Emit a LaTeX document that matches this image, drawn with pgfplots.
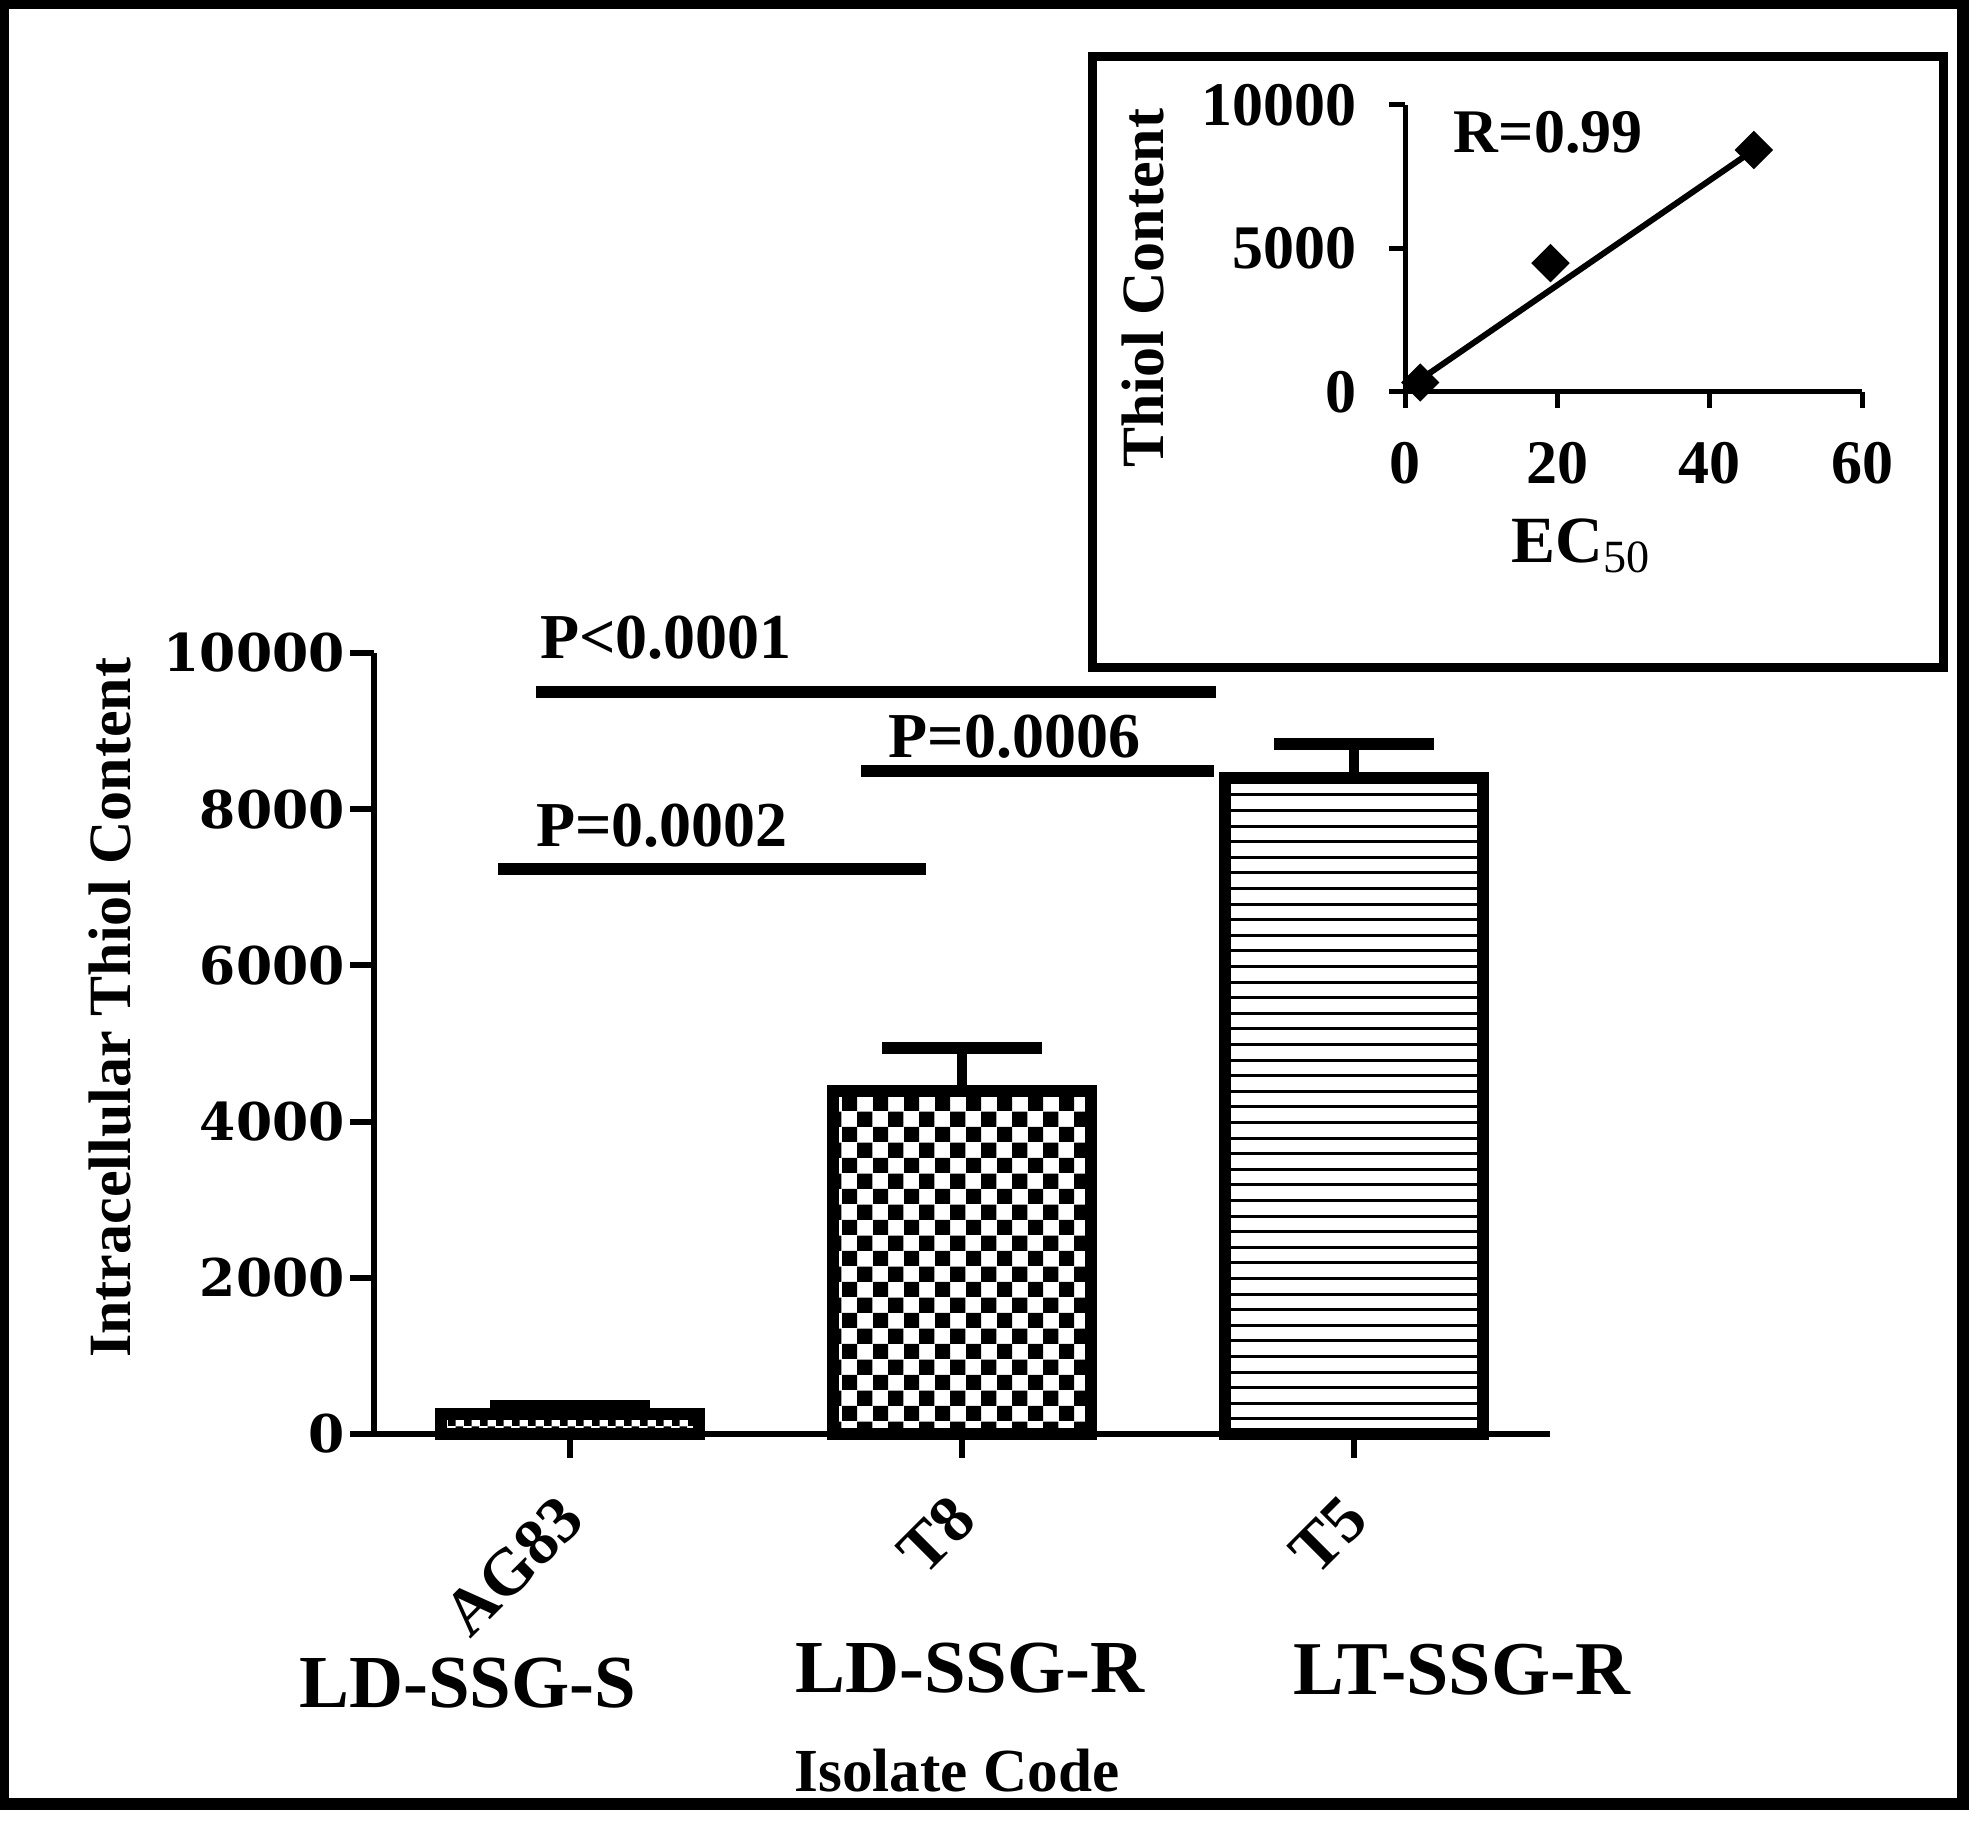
\documentclass[border=0pt]{standalone}
\usepackage{fontspec}
\setmainfont{Liberation Serif}
\newfontfamily\dvs{DejaVu Serif}
\usepackage{pgfplots}
\pgfplotsset{compat=1.18}
\usetikzlibrary{patterns}

\pgfdeclarepatternformonly{checker}{\pgfpointorigin}{\pgfqpoint{7.8pt}{7.8pt}}{\pgfqpoint{7.8pt}{7.8pt}}{%
  \pgfpathrectangle{\pgfpointorigin}{\pgfqpoint{3.9pt}{3.9pt}}%
  \pgfpathrectangle{\pgfqpoint{3.9pt}{3.9pt}}{\pgfqpoint{3.9pt}{3.9pt}}%
  \pgfusepath{fill}}
\pgfdeclarepatternformonly{smallchecker}{\pgfpointorigin}{\pgfqpoint{4pt}{4pt}}{\pgfqpoint{4pt}{4pt}}{%
  \pgfpathrectangle{\pgfpointorigin}{\pgfqpoint{2pt}{2pt}}%
  \pgfpathrectangle{\pgfqpoint{2pt}{2pt}}{\pgfqpoint{2pt}{2pt}}%
  \pgfusepath{fill}}
\pgfdeclarepatternformonly{hstripes}{\pgfpointorigin}{\pgfqpoint{4pt}{0.75pt}}{\pgfqpoint{4pt}{3.9pt}}{%
  \pgfpathrectangle{\pgfpointorigin}{\pgfqpoint{4pt}{0.75pt}}%
  \pgfusepath{fill}}

\newcommand{\fs}[1]{\fontsize{#1}{1.2\dimexpr#1pt\relax}\selectfont}

\begin{document}
\begin{tikzpicture}
\useasboundingbox (0,0) rectangle (492.25pt,456.5pt);
\draw[line width=3pt] (0.75pt,5.5pt) rectangle (490.75pt,455.75pt);
\draw[line width=2.25pt] (273pt,289.5pt) rectangle (485.75pt,442.25pt);

% ---------------- main bar chart ----------------
\begin{axis}[
  at={(93.5pt,98pt)}, anchor=south west,
  scale only axis, width=294pt, height=195.25pt,
  xmin=-0.5, xmax=2.5, ymin=0, ymax=10000,
  scaled y ticks=false,
  axis lines*=left,
  axis line style={line width=1.5pt},
  major tick style={line width=1.5pt, black},
  tick align=outside,
  major tick length=6pt,
  xtick={0,1,2}, xticklabels={AG83,T8,T5},
  ytick={0,2000,4000,6000,8000,10000},
  yticklabels={0,2000,4000,6000,8000,10000},
  yticklabel style={font=\dvs\bfseries\fs{13}, xshift=2.2pt},
  xticklabel style={font=\bfseries\fs{16.5}, xshift=3pt, yshift=-10pt, rotate=45, anchor=east},
  bar width=0.66,
  clip=false,
  ylabel={Intracellular Thiol Content},
  ylabel style={font=\bfseries\fs{15}, at={(axis description cs:-0.2245,0.5455)}, anchor=center},
  xlabel={Isolate Code},
  xlabel style={font=\bfseries\fs{15.3}, at={(axis description cs:0.4957,-0.4315)}, anchor=center},
]
\addplot[ybar, bar shift=0pt, draw=black, line width=3pt, pattern=smallchecker,
  error bars/.cd, y dir=plus, y explicit,
  error bar style={line width=2.7pt, solid},
  error mark options={rotate=90, line width=3pt, mark size=20pt}]
  coordinates {(0,256) +- (0,100)};
\addplot[ybar, bar shift=0pt, draw=black, line width=3pt, pattern=checker,
  error bars/.cd, y dir=plus, y explicit,
  error bar style={line width=2.7pt, solid},
  error mark options={rotate=90, line width=3pt, mark size=20pt}]
  coordinates {(1,4392) +- (0,550)};
\addplot[ybar, bar shift=0pt, draw=black, line width=3pt, pattern=hstripes,
  error bars/.cd, y dir=plus, y explicit,
  error bar style={line width=2.7pt, solid},
  error mark options={rotate=90, line width=3pt, mark size=20pt}]
  coordinates {(2,8400) +- (0,440)};
% significance bars
\addplot[line width=3pt, no marks, forget plot] coordinates {(-0.087,9500) (1.647,9500)};
\addplot[line width=3pt, no marks, forget plot] coordinates {(0.742,8490) (1.642,8490)};
\addplot[line width=3pt, no marks, forget plot] coordinates {(-0.184,7234) (0.908,7234)};
\node[font=\bfseries\fs{16}, anchor=center] at (axis cs:0.245,10190) {P<0.0001};
\node[font=\bfseries\fs{16}, anchor=center] at (axis cs:1.134,8925) {P=0.0006};
\node[font=\bfseries\fs{16}, anchor=center] at (axis cs:0.235,7785) {P=0.0002};
\node[font=\bfseries\fs{18.7}, anchor=center, inner sep=0pt] at (axis cs:-0.261,-3188) {LD-SSG-S};
\node[font=\bfseries\fs{18.7}, anchor=center, inner sep=0pt] at (axis cs:1.020,-2996) {LD-SSG-R};
\node[font=\bfseries\fs{19}, anchor=center, inner sep=0pt] at (axis cs:2.276,-3022) {LT-SSG-R};
\end{axis}

% ---------------- inset ----------------
\begin{axis}[
  at={(351.25pt,358.5pt)}, anchor=south west,
  scale only axis, width=114.25pt, height=71.75pt,
  xmin=0, xmax=60, ymin=0, ymax=10000,
  scaled y ticks=false, scaled x ticks=false,
  axis lines*=left,
  axis line style={line width=1.25pt},
  major tick style={line width=1.25pt, black},
  tick align=outside,
  major tick length=4pt,
  xtick={0,20,40,60}, xticklabels={0,20,40,60},
  ytick={0,5000,10000}, yticklabels={0,5000,10000},
  ticklabel style={font=\bfseries\fs{15.5}},
  yticklabel style={xshift=-4.7pt},
  xticklabel style={yshift=-5pt},
  clip=false,
  ylabel={Thiol Content},
  ylabel style={font=\bfseries\fs{15}, at={(axis description cs:-0.573,0.362)}, anchor=center},
  xlabel={EC\textsubscript{\mdseries 50}},
  xlabel style={font=\bfseries\fs{16.5}, at={(axis description cs:0.387,-0.537)}, anchor=center},
]
\addplot[only marks, mark=square*, mark size=3.2pt, mark options={rotate=45, fill=black}]
  coordinates {(2,330) (19.1,4490) (45.8,8430)};
\addplot[line width=1.5pt, no marks] coordinates {(1,250) (45.4,8360)};
\node[font=\bfseries\fs{15.5}, anchor=center] at (axis cs:18.8,9060) {R=0.99};
\end{axis}
\end{tikzpicture}
\end{document}
